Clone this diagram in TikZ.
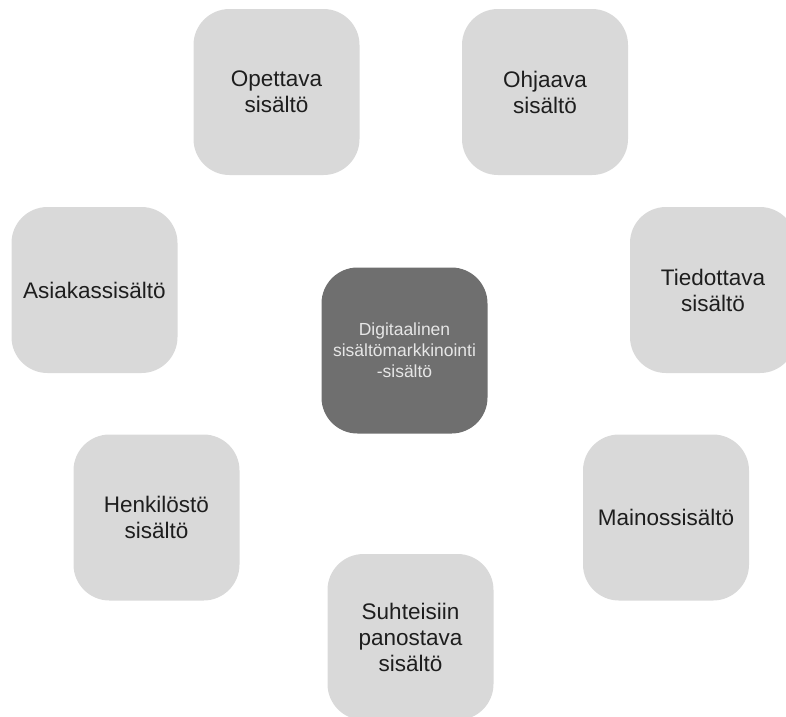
\documentclass[tikz,border=0pt]{standalone}
\usepackage{fontspec}
\setmainfont{Liberation Sans}
\definecolor{boxgray}{HTML}{D9D9D9}
\definecolor{coregray}{HTML}{6F6F6F}
\definecolor{txtdark}{HTML}{1E1E1E}
\definecolor{txtlight}{HTML}{E6E6E6}
\begin{document}
\begin{tikzpicture}[x=1pt,y=-1pt,
  tile/.style={rectangle, rounded corners=36pt, minimum width=166pt, minimum height=166pt,
    inner sep=0pt, fill=boxgray, text=txtdark, align=center,
    font=\fontsize{22.5}{26}\selectfont},
  core/.style={tile, fill=coregray, text=txtlight, font=\fontsize{17.5}{21}\selectfont}]
\useasboundingbox (0,0) rectangle (786,716);
\clip (0,0) rectangle (786,716);
\node[tile] (opettava) at (276.5,92) {Opettava\\sisältö};
\node[tile] (ohjaava) at (545,92) {Ohjaava\\sisältö};
\node[tile] (asiakas) at (94.5,290) {Asiakassisältö};
\node[tile] (tiedottava) at (713,290) {Tiedottava\\sisältö};
\node[core] (center) at (404.5,350.5) {Digitaalinen\\sisältömarkkinointi\\-sisältö};
\node[tile] (henkilosto) at (156.5,517.5) {Henkilöstö\\sisältö};
\node[tile] (mainos) at (666,517.5) {Mainossisältö};
\node[tile] (suhteisiin) at (410.5,637) {Suhteisiin\\panostava\\sisältö};
\end{tikzpicture}
\end{document}
